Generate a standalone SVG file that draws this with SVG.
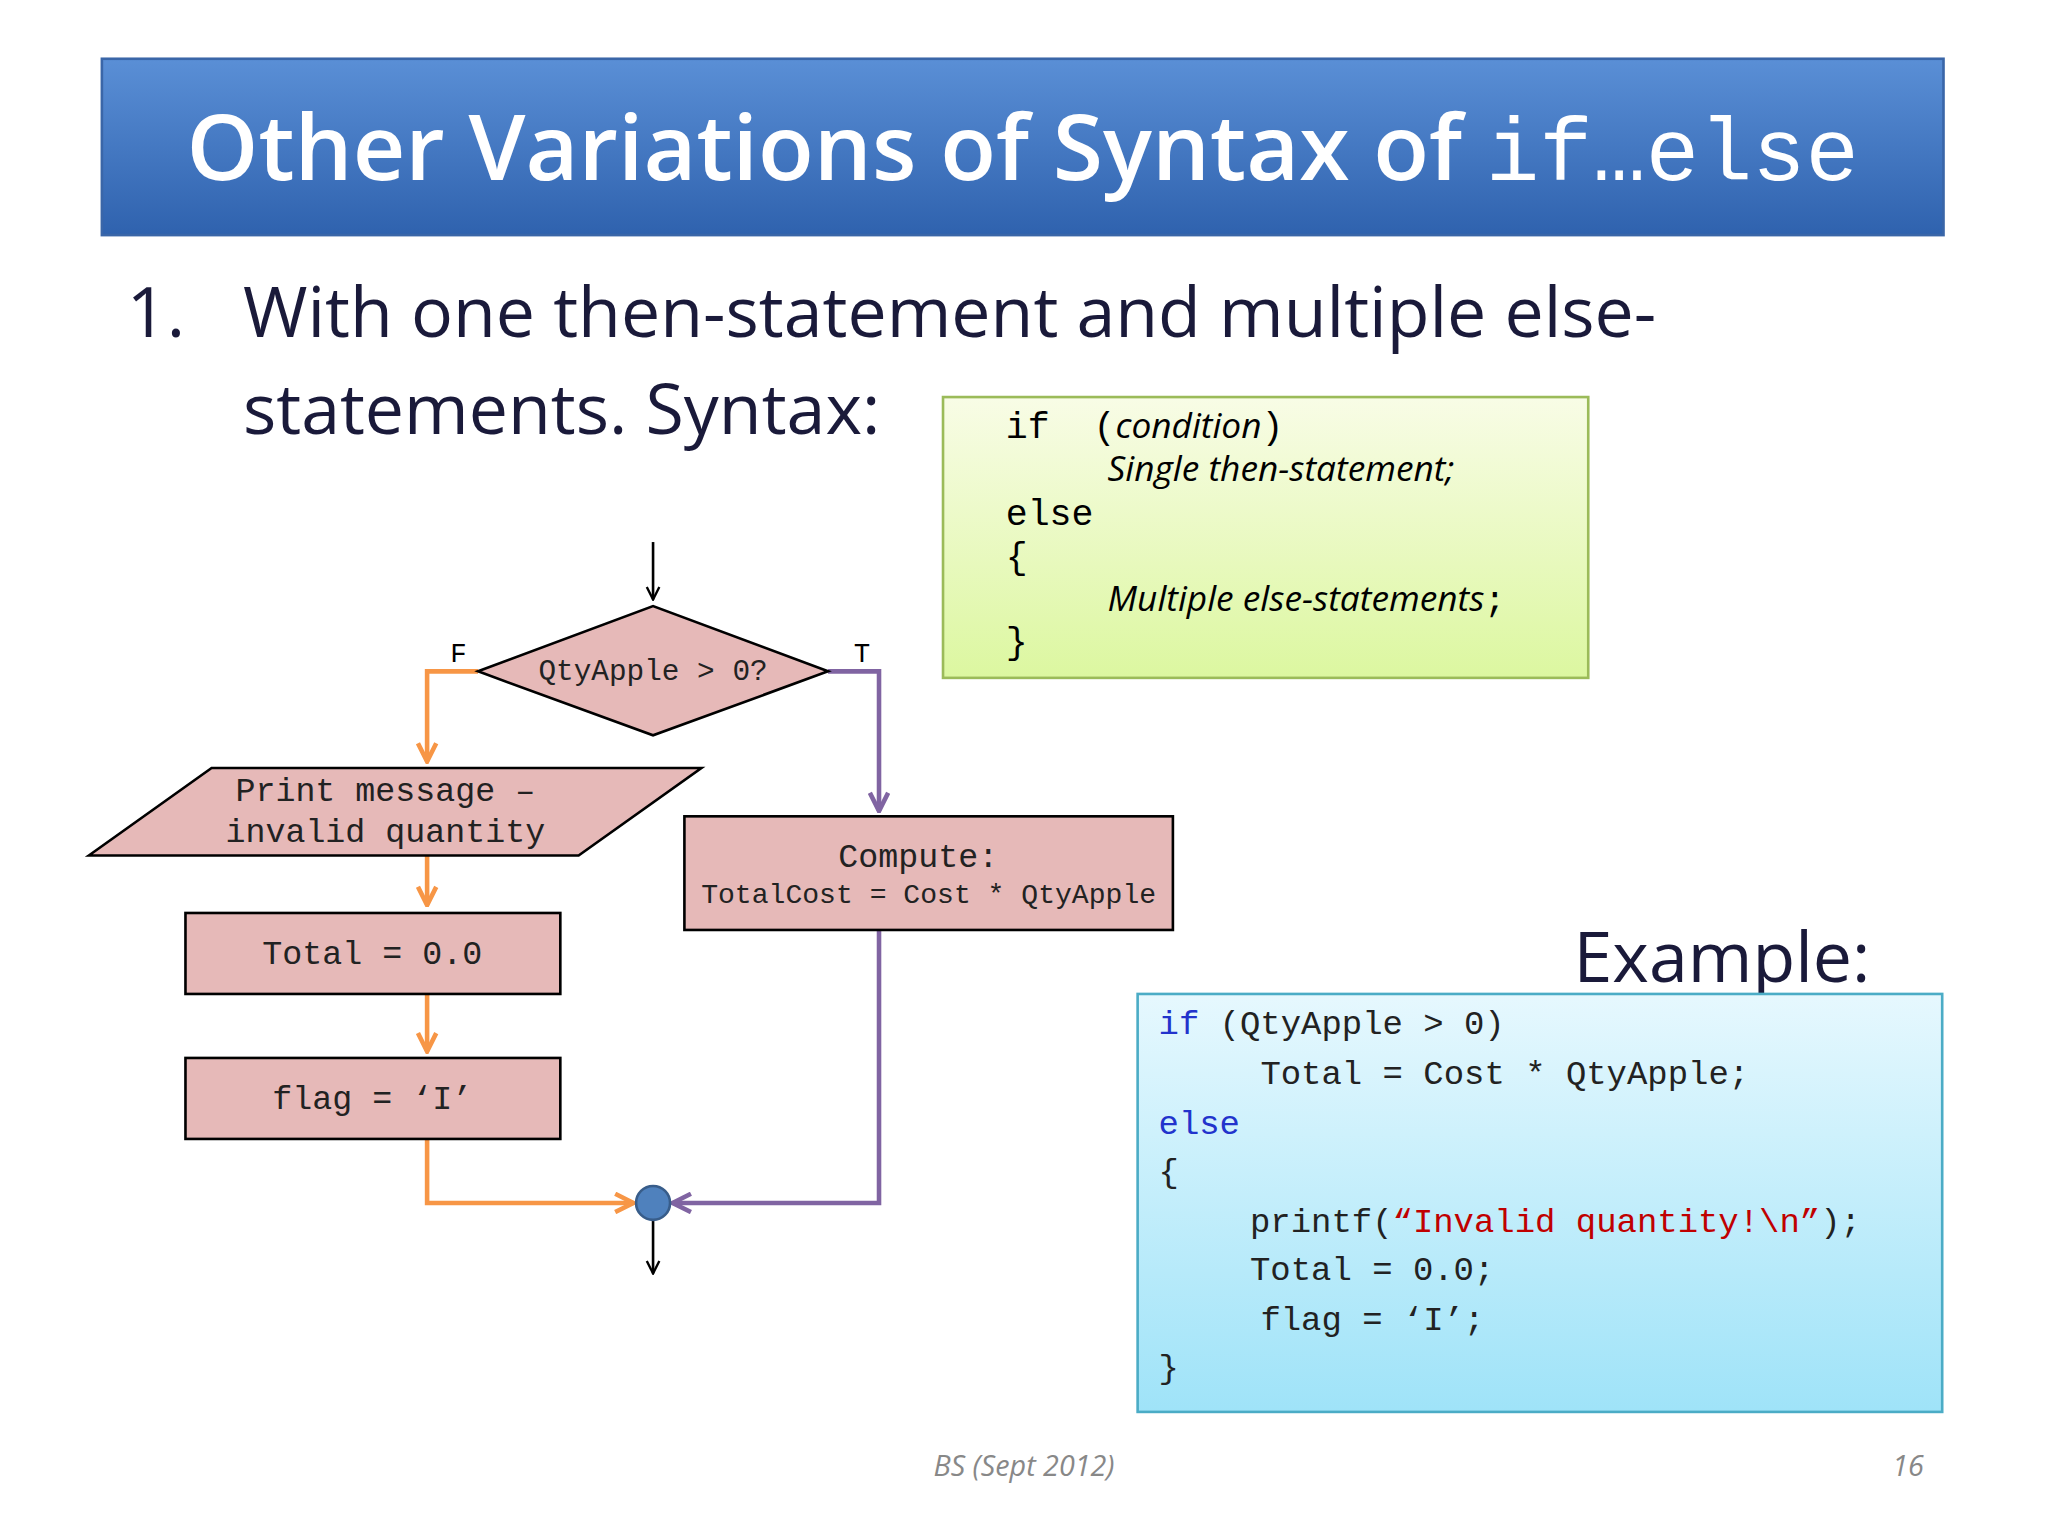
<svg xmlns="http://www.w3.org/2000/svg" width="2048" height="1536" viewBox="0 0 2048 1536">
<defs>
<linearGradient id="tb" x1="0" y1="0" x2="0" y2="1"><stop offset="0" stop-color="#5a8fd6"/><stop offset="1" stop-color="#2f62ae"/></linearGradient>
<linearGradient id="gb" x1="0" y1="0" x2="0" y2="1"><stop offset="0" stop-color="#f8fce6"/><stop offset="1" stop-color="#dcf7a0"/></linearGradient>
<linearGradient id="cb" x1="0" y1="0" x2="0" y2="1"><stop offset="0" stop-color="#e6f8fe"/><stop offset="1" stop-color="#9fe3f8"/></linearGradient>
<marker id="ao" viewBox="0 0 10 10" refX="9" refY="5" markerWidth="5" markerHeight="5" orient="auto"><path d="M1,1 L9,5 L1,9" fill="none" stroke="#f79646" stroke-width="2"/></marker>
<marker id="ap" viewBox="0 0 10 10" refX="9" refY="5" markerWidth="5" markerHeight="5" orient="auto"><path d="M1,1 L9,5 L1,9" fill="none" stroke="#8064a2" stroke-width="2"/></marker>
<marker id="ak" viewBox="0 0 10 10" refX="9" refY="5" markerWidth="6" markerHeight="6" orient="auto"><path d="M1,1 L9,5 L1,9" fill="none" stroke="#000" stroke-width="1.5"/></marker>
</defs>
<style>
.m{font-family:"Liberation Mono",monospace;white-space:pre}
.s{font-family:"Open Sans","Liberation Sans",sans-serif}
.n{fill:#e6b9b8;stroke:#000;stroke-width:2}
.o{fill:none;stroke:#f79646;stroke-width:3.5}
.p{fill:none;stroke:#8064a2;stroke-width:3.5}
.fc{fill:#222;text-anchor:middle}
</style>
<rect width="2048" height="1536" fill="#fff"/>
<g transform="scale(1.30612)">
<g id="title">
<rect x="78" y="45" width="1410" height="135" fill="url(#tb)" stroke="#3a66a8" stroke-width="2"/>
<text x="783" y="138" text-anchor="middle" fill="#fff" font-size="70"><tspan class="s" font-weight="600">Other Variations of Syntax of </tspan><tspan class="m" font-size="68">if…else</tspan></text>
</g>
<g id="bullet" class="s" font-size="53.5" fill="#1a1a3a">
<text x="97" y="258">1.</text>
<text x="186" y="258">With one then-statement and multiple else-</text>
<text x="186" y="332">statements. Syntax:</text>
</g>
<g id="syntax">
<rect x="722" y="304" width="494" height="215" fill="url(#gb)" stroke="#9bbb59" stroke-width="2"/>
<text class="m" x="770" y="335" font-size="28">if  (<tspan class="s" font-style="italic" font-size="27">condition</tspan>)</text>
<text class="s" x="848" y="368" font-size="27" font-style="italic">Single then-statement;</text>
<text class="m" x="770" y="402" font-size="28">else</text>
<text class="m" x="770" y="435" font-size="28">{</text>
<text class="s" x="848" y="468" font-size="27" font-style="italic">Multiple else-statements<tspan class="m" font-style="normal">;</tspan></text>
<text class="m" x="770" y="500" font-size="28">}</text>
</g>
<g id="connectors">
<path d="M500,415 V459" stroke="#000" stroke-width="2" marker-end="url(#ak)"/>
<path class="o" d="M366,514 H327 V583" marker-end="url(#ao)"/>
<path class="p" d="M634,514 H673 V621" marker-end="url(#ap)"/>
<path class="o" d="M327,655 V693" marker-end="url(#ao)"/>
<path class="o" d="M327,761 V805" marker-end="url(#ao)"/>
<path class="o" d="M327,872 V921 H485" marker-end="url(#ao)"/>
<path class="p" d="M673,712 V921 H515" marker-end="url(#ap)"/>
<path d="M500,934 V975" stroke="#000" stroke-width="2" marker-end="url(#ak)"/>
<text class="m" x="351" y="507" font-size="21" text-anchor="middle">F</text>
<text class="m" x="660" y="507" font-size="21" text-anchor="middle">T</text>
</g>
<g id="decision"><polygon class="n" points="366,514 500,464 634,514 500,563"/><text class="m fc" x="500" y="521" font-size="22.5">QtyApple &gt; 0?</text></g>
<g id="print"><polygon class="n" points="68,655 162,588 537,588 443,655"/><text class="m fc" x="295" y="613" font-size="25.5">Print message –</text><text class="m fc" x="295" y="645" font-size="25.5">invalid quantity</text></g>
<g id="total"><rect class="n" x="142" y="699" width="287" height="62"/><text class="m fc" x="285" y="738" font-size="25.5">Total = 0.0</text></g>
<g id="flag"><rect class="n" x="142" y="810" width="287" height="62"/><text class="m fc" x="285" y="849" font-size="25.5">flag = ‘I’</text></g>
<g id="compute"><rect class="n" x="524" y="625" width="374" height="87"/><text class="m fc" x="703" y="664" font-size="25.5">Compute:</text><text class="m fc" x="711" y="691" font-size="21.5">TotalCost = Cost * QtyApple</text></g>
<g id="merge"><circle cx="500" cy="921" r="13" fill="#4f81bd" stroke="#385d8a" stroke-width="2"/></g>
<g id="example">
<text class="s" x="1432" y="752" font-size="53.5" fill="#1a1a3a" text-anchor="end">Example:</text>
<rect x="871" y="761" width="616" height="320" fill="url(#cb)" stroke="#4bacc6" stroke-width="2"/>
<g class="m" font-size="26" fill="#222">
<text x="887" y="792"><tspan fill="#2233cc">if</tspan> (QtyApple &gt; 0)</text>
<text x="965" y="830">Total = Cost * QtyApple;</text>
<text x="887" y="868" fill="#2233cc">else</text>
<text x="887" y="905">{</text>
<text x="957" y="943">printf(<tspan fill="#c00000">“Invalid quantity!\n”</tspan>);</text>
<text x="957" y="980">Total = 0.0;</text>
<text x="965" y="1018">flag = ‘I’;</text>
<text x="887" y="1055">}</text>
</g>
</g>
<g id="footer" class="s" font-size="22" font-style="italic" fill="#888">
<text x="784" y="1130" text-anchor="middle">BS (Sept 2012)</text>
<text x="1473" y="1130" text-anchor="end">16</text>
</g>
</g>
</svg>
